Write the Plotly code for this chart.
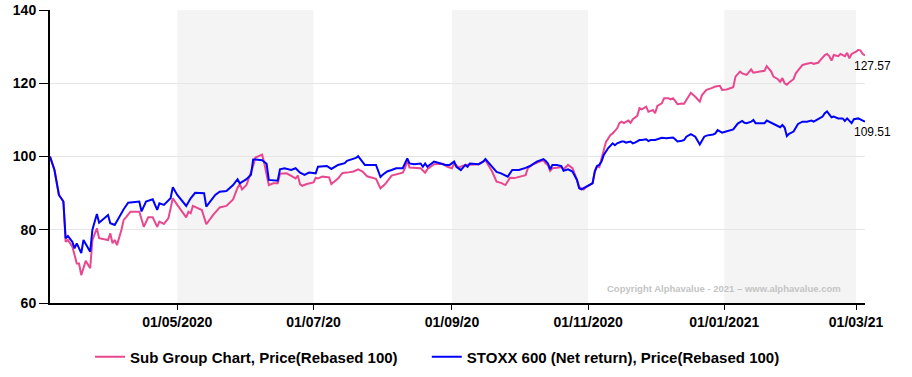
import plotly.graph_objects as go

# ---------------- data ----------------
sub_dates = [
    "2020-03-05", "2020-03-07", "2020-03-09", "2020-03-10", "2020-03-11", "2020-03-12", "2020-03-13", "2020-03-15", "2020-03-16", "2020-03-17", "2020-03-18", "2020-03-19", "2020-03-21", "2020-03-23", "2020-03-24", "2020-03-26", "2020-03-27", "2020-03-31",
    "2020-04-01", "2020-04-02", "2020-04-03", "2020-04-04", "2020-04-06", "2020-04-07", "2020-04-08", "2020-04-10", "2020-04-14", "2020-04-16", "2020-04-18", "2020-04-20", "2020-04-22", "2020-04-23", "2020-04-25", "2020-04-27", "2020-04-28", "2020-04-29",
    "2020-05-01", "2020-05-05", "2020-05-06", "2020-05-07", "2020-05-08", "2020-05-11", "2020-05-12", "2020-05-14", "2020-05-17", "2020-05-20", "2020-05-23", "2020-05-26", "2020-05-28", "2020-05-29", "2020-05-30",
    "2020-06-01", "2020-06-03", "2020-06-04", "2020-06-05", "2020-06-07", "2020-06-08", "2020-06-09", "2020-06-11", "2020-06-13", "2020-06-15", "2020-06-16", "2020-06-19", "2020-06-21", "2020-06-23", "2020-06-24", "2020-06-25", "2020-06-26", "2020-06-28",
    "2020-07-01", "2020-07-02", "2020-07-03", "2020-07-05", "2020-07-08", "2020-07-09", "2020-07-12", "2020-07-14", "2020-07-16", "2020-07-19", "2020-07-21", "2020-07-23", "2020-07-25", "2020-07-29", "2020-07-31",
    "2020-08-02", "2020-08-05", "2020-08-07", "2020-08-10", "2020-08-11", "2020-08-12", "2020-08-13", "2020-08-18", "2020-08-20", "2020-08-21", "2020-08-24", "2020-08-28", "2020-08-30",
    "2020-09-01", "2020-09-02", "2020-09-04", "2020-09-07", "2020-09-09", "2020-09-13", "2020-09-16", "2020-09-19", "2020-09-21", "2020-09-23", "2020-09-25", "2020-09-27", "2020-09-29",
    "2020-10-01", "2020-10-04", "2020-10-05", "2020-10-07", "2020-10-09", "2020-10-10", "2020-10-12", "2020-10-13", "2020-10-14", "2020-10-15", "2020-10-16", "2020-10-18", "2020-10-20", "2020-10-21", "2020-10-23", "2020-10-25", "2020-10-26", "2020-10-27", "2020-10-28", "2020-10-30", "2020-10-31",
    "2020-11-03", "2020-11-04", "2020-11-05", "2020-11-06", "2020-11-07", "2020-11-09", "2020-11-11", "2020-11-12", "2020-11-14", "2020-11-15", "2020-11-16", "2020-11-17", "2020-11-19", "2020-11-20", "2020-11-21", "2020-11-23", "2020-11-24", "2020-11-25", "2020-11-27", "2020-11-28", "2020-11-30",
    "2020-12-01", "2020-12-02", "2020-12-04", "2020-12-05", "2020-12-07", "2020-12-08", "2020-12-09", "2020-12-10", "2020-12-11", "2020-12-13", "2020-12-14", "2020-12-15", "2020-12-17", "2020-12-19", "2020-12-21", "2020-12-22", "2020-12-24", "2020-12-26", "2020-12-28", "2020-12-30", "2020-12-31",
    "2021-01-02", "2021-01-05", "2021-01-06", "2021-01-08", "2021-01-09", "2021-01-11", "2021-01-13", "2021-01-14", "2021-01-17", "2021-01-19", "2021-01-20", "2021-01-22", "2021-01-23", "2021-01-25", "2021-01-26", "2021-01-27", "2021-01-28", "2021-01-29", "2021-01-30",
    "2021-02-01", "2021-02-02", "2021-02-03", "2021-02-05", "2021-02-07", "2021-02-09", "2021-02-10", "2021-02-12", "2021-02-13", "2021-02-15", "2021-02-16", "2021-02-17", "2021-02-18", "2021-02-19", "2021-02-21", "2021-02-22", "2021-02-24", "2021-02-25", "2021-02-26", "2021-02-27",
    "2021-03-01", "2021-03-02", "2021-03-03", "2021-03-04", "2021-03-05",
]
sub_values = [
    100.0, 96.3, 89.5, 88.6, 87.7, 76.7, 77.2, 75.4, 73.1, 70.8, 70.8, 67.6, 71.5, 69.5, 77.2, 80.4, 77.7, 77.2,
    79.0, 76.3, 77.2, 75.8, 80.0, 82.7, 83.4, 84.9, 84.9, 80.8, 83.4, 83.4, 80.8, 82.2, 81.6, 83.1, 85.8, 88.6,
    86.8, 83.4, 84.9, 84.5, 86.5, 85.8, 85.4, 81.5, 84.0, 86.1, 86.5, 88.3, 91.5, 92.5, 91.0,
    92.2, 95.5, 97.5, 99.7, 100.1, 100.5, 98.0, 92.2, 92.7, 92.7, 95.3, 95.4, 94.7, 94.0, 94.8, 92.4, 92.0, 92.5,
    92.9, 94.2, 94.0, 94.5, 94.3, 92.5, 94.0, 95.5, 95.6, 95.9, 96.5, 95.9, 94.6, 93.9, 91.3,
    92.4, 94.8, 95.2, 95.6, 96.8, 98.9, 97.0, 96.8, 95.6, 96.5, 97.9, 98.0, 97.2,
    96.8, 98.1, 97.0, 97.7, 97.8, 97.9, 99.0, 95.9, 93.1, 92.8, 92.2, 94.2, 94.1,
    94.5, 94.9, 96.8, 97.8, 98.3, 98.6, 99.0, 98.1, 97.7, 96.1, 96.8, 96.9, 97.1, 96.5, 97.7, 96.8, 95.4, 93.6, 91.6, 91.0, 91.6,
    92.7, 96.1, 97.4, 97.1, 99.5, 104.0, 105.9, 106.3, 107.7, 109.1, 109.5, 109.1, 109.8, 109.2, 110.2, 111.1, 113.2, 112.9, 113.6, 112.2, 112.7,
    111.8, 113.8, 114.5, 115.9, 115.9, 115.6, 115.9, 115.2, 114.3, 114.5, 114.4, 115.4, 117.4, 116.3, 115.0, 116.8, 118.2, 118.6, 119.1, 119.3, 118.2,
    118.3, 118.9, 121.8, 123.2, 122.7, 122.3, 123.8, 122.9, 123.2, 123.4, 124.7, 123.2, 121.8, 121.1, 120.4, 121.4, 120.0, 119.6, 120.2,
    121.1, 122.7, 123.5, 125.0, 125.3, 125.6, 125.3, 125.6, 126.3, 127.7, 128.0, 127.4, 126.2, 127.7, 127.4, 128.0, 127.4, 128.3, 126.8, 128.0,
    128.6, 129.1, 128.9, 128.0, 127.57,
]

stoxx_dates = [
    "2020-03-05", "2020-03-07", "2020-03-09", "2020-03-10", "2020-03-11", "2020-03-12", "2020-03-13", "2020-03-15", "2020-03-16", "2020-03-17", "2020-03-19", "2020-03-20", "2020-03-23", "2020-03-24", "2020-03-26", "2020-03-27", "2020-03-31",
    "2020-04-01", "2020-04-03", "2020-04-07", "2020-04-09", "2020-04-14", "2020-04-15", "2020-04-17", "2020-04-20", "2020-04-22", "2020-04-23", "2020-04-25", "2020-04-28", "2020-04-29",
    "2020-05-01", "2020-05-05", "2020-05-07", "2020-05-09", "2020-05-13", "2020-05-14", "2020-05-18", "2020-05-20", "2020-05-23", "2020-05-26", "2020-05-28", "2020-05-29",
    "2020-06-01", "2020-06-03", "2020-06-04", "2020-06-05", "2020-06-08", "2020-06-10", "2020-06-11", "2020-06-15", "2020-06-16", "2020-06-18", "2020-06-21", "2020-06-23", "2020-06-25", "2020-06-27", "2020-06-29",
    "2020-07-02", "2020-07-03", "2020-07-07", "2020-07-09", "2020-07-12", "2020-07-15", "2020-07-16", "2020-07-20", "2020-07-21", "2020-07-23", "2020-07-24", "2020-07-29", "2020-07-30", "2020-07-31",
    "2020-08-01", "2020-08-03", "2020-08-05", "2020-08-07", "2020-08-10", "2020-08-12", "2020-08-13", "2020-08-15", "2020-08-18", "2020-08-19", "2020-08-20", "2020-08-21", "2020-08-22", "2020-08-24", "2020-08-27", "2020-08-29", "2020-08-31",
    "2020-09-02", "2020-09-03", "2020-09-05", "2020-09-07", "2020-09-08", "2020-09-09", "2020-09-13", "2020-09-15", "2020-09-16", "2020-09-17", "2020-09-19", "2020-09-21", "2020-09-23", "2020-09-26", "2020-09-28",
    "2020-10-01", "2020-10-04", "2020-10-06", "2020-10-09", "2020-10-10", "2020-10-12", "2020-10-13", "2020-10-14", "2020-10-15", "2020-10-16", "2020-10-18", "2020-10-20", "2020-10-21", "2020-10-23", "2020-10-25", "2020-10-26", "2020-10-27", "2020-10-28", "2020-10-29", "2020-10-31",
    "2020-11-03", "2020-11-04", "2020-11-05", "2020-11-06", "2020-11-07", "2020-11-08", "2020-11-10", "2020-11-12", "2020-11-13", "2020-11-14", "2020-11-16", "2020-11-17", "2020-11-18", "2020-11-20", "2020-11-21", "2020-11-22", "2020-11-23", "2020-11-24", "2020-11-25", "2020-11-27", "2020-11-28", "2020-11-29",
    "2020-12-01", "2020-12-02", "2020-12-04", "2020-12-06", "2020-12-07", "2020-12-09", "2020-12-10", "2020-12-11", "2020-12-13", "2020-12-14", "2020-12-15", "2020-12-17", "2020-12-19", "2020-12-20", "2020-12-21", "2020-12-23", "2020-12-24", "2020-12-27", "2020-12-28", "2020-12-29", "2020-12-31",
    "2021-01-01", "2021-01-03", "2021-01-05", "2021-01-07", "2021-01-09", "2021-01-10", "2021-01-11", "2021-01-13", "2021-01-14", "2021-01-15", "2021-01-17", "2021-01-19", "2021-01-20", "2021-01-22", "2021-01-23", "2021-01-25", "2021-01-26", "2021-01-27", "2021-01-28", "2021-01-29", "2021-01-30",
    "2021-02-01", "2021-02-02", "2021-02-03", "2021-02-05", "2021-02-07", "2021-02-09", "2021-02-10", "2021-02-12", "2021-02-14", "2021-02-15", "2021-02-16", "2021-02-18", "2021-02-19", "2021-02-21", "2021-02-23", "2021-02-24", "2021-02-25", "2021-02-27", "2021-02-28",
    "2021-03-02", "2021-03-03", "2021-03-04", "2021-03-05",
]
stoxx_values = [
    100.0, 96.3, 89.5, 88.6, 87.7, 77.7, 78.3, 76.7, 74.9, 76.3, 73.6, 77.2, 74.0, 80.0, 84.3, 81.9, 84.0,
    81.8, 81.3, 85.6, 87.4, 87.7, 85.0, 87.7, 88.3, 85.4, 87.2, 86.8, 88.6, 91.6,
    89.5, 86.5, 88.6, 90.1, 90.0, 86.3, 89.5, 90.4, 90.6, 92.2, 93.8, 92.7,
    93.8, 95.0, 99.2, 99.2, 99.0, 98.0, 93.6, 93.4, 96.5, 96.8, 96.3, 96.8, 95.6, 95.0, 95.6,
    95.4, 97.2, 97.4, 96.6, 97.7, 98.2, 98.8, 99.6, 100.1, 98.5, 97.7, 97.7, 96.3, 94.4,
    95.0, 95.9, 96.3, 96.8, 96.8, 99.5, 98.1, 97.9, 98.1, 97.2, 98.1, 97.2, 97.7, 98.6, 98.1, 97.7, 97.7,
    98.6, 97.2, 96.3, 97.7, 97.2, 98.1, 97.9, 98.6, 99.3, 98.6, 97.2, 95.8, 95.4, 94.5, 96.3,
    96.3, 96.9, 97.4, 98.6, 98.9, 99.3, 98.8, 98.1, 96.5, 97.7, 97.7, 97.4, 96.1, 96.5, 95.9, 94.9, 93.6, 91.3, 91.0, 91.7,
    92.7, 95.9, 97.4, 97.7, 98.6, 100.4, 102.3, 103.6, 103.1, 103.6, 104.1, 104.1, 103.8, 104.1, 103.6, 103.8, 104.1, 104.5, 104.5, 104.7, 104.2, 104.5,
    104.5, 104.7, 105.1, 105.0, 105.0, 105.2, 104.7, 104.1, 104.3, 104.5, 105.4, 106.1, 105.4, 104.5, 103.3, 105.4, 105.7, 106.0, 106.3, 107.2, 106.5,
    106.7, 107.0, 107.4, 109.0, 109.7, 109.2, 109.1, 109.5, 110.0, 109.1, 109.1, 109.1, 109.8, 109.2, 108.9, 108.3, 108.0, 108.6, 107.9, 105.6, 106.2,
    106.8, 107.7, 108.9, 109.5, 109.5, 109.8, 109.5, 110.2, 110.9, 111.8, 112.3, 110.7, 110.9, 110.4, 110.4, 109.7, 110.4, 109.1, 110.2,
    110.4, 110.2, 109.8, 109.51,
]

series_names = ["Sub Group Chart, Price(Rebased 100)", "STOXX 600 (Net return), Price(Rebased 100)"]
series_colors = ["#E9488F", "#0000FF"]

x_tick_dates = ["2020-05-01", "2020-07-01", "2020-09-01", "2020-11-01", "2021-01-01", "2021-03-01"]
x_tick_labels = ["01/05/2020", "01/07/20", "01/09/20", "01/11/2020", "01/01/2021", "01/03/21"]
y_ticks = [60, 80, 100, 120, 140]
band_starts = ["2020-05-01", "2020-09-01", "2021-01-01"]
band_ends = ["2020-07-01", "2020-11-01", "2021-03-01"]
x_range = ["2020-03-05", "2021-03-05"]
copyright_text = "Copyright Alphavalue - 2021 \u2013 www.alphavalue.com"

assert len(sub_dates) == len(sub_values), (len(sub_dates), len(sub_values))
assert len(stoxx_dates) == len(stoxx_values), (len(stoxx_dates), len(stoxx_values))

FONT = "Liberation Sans, Arial, sans-serif"

fig = go.Figure()
for dates, vals, name, color, leg in [
    (sub_dates, sub_values, series_names[0], series_colors[0], "legend"),
    (stoxx_dates, stoxx_values, series_names[1], series_colors[1], "legend2"),
]:
    fig.add_trace(go.Scatter(x=dates, y=vals, mode="lines", name=name, legend=leg,
                             line=dict(color=color, width=2)))

shapes = []
for s, e in zip(band_starts, band_ends):
    shapes.append(dict(type="rect", xref="x", yref="paper", x0=s, x1=e, y0=0, y1=1,
                       fillcolor="#f4f4f4", line=dict(width=0), layer="below"))

annotations = []
for dates, vals in [(sub_dates, sub_values), (stoxx_dates, stoxx_values)]:
    annotations.append(dict(x=dates[-1], y=vals[-1], xref="x", yref="y",
                            text=f"{vals[-1]:.2f}", showarrow=False,
                            xanchor="left", yanchor="middle", xshift=-13, yshift=-10,
                            font=dict(family=FONT, size=12, color="#000000")))
annotations.append(dict(x=0.9735, y=0.051, xref="paper", yref="paper", text=copyright_text,
                        showarrow=False, xanchor="right", yanchor="middle",
                        font=dict(family=FONT, size=9.5, color="#c4c4c4", weight="bold")))

legend_font = dict(family=FONT, size=15, color="#000000", weight="bold")
fig.update_layout(
    width=912, height=377,
    margin=dict(l=50, r=47, t=10, b=74, autoexpand=False),
    paper_bgcolor="white", plot_bgcolor="white",
    font=dict(family=FONT, color="#000000"),
    shapes=shapes, annotations=annotations,
    showlegend=True,
    legend=dict(orientation="h", xref="container", yref="container",
                x=0.0987, xanchor="left", y=0.053, yanchor="middle",
                font=legend_font, itemwidth=30),
    legend2=dict(orientation="h", xref="container", yref="container",
                 x=0.468, xanchor="left", y=0.053, yanchor="middle",
                 font=legend_font, itemwidth=30),
    xaxis=dict(type="date", range=x_range, tickvals=x_tick_dates, ticktext=x_tick_labels,
               automargin=False,
               showgrid=False, zeroline=False, showline=True, linecolor="#000000", linewidth=2,
               ticks="outside", ticklen=5, tickcolor="#000000", tickwidth=1,
               tickfont=dict(family=FONT, size=14, color="#000000", weight="bold")),
    yaxis=dict(range=[60, 140], tickvals=y_ticks, automargin=False,
               showgrid=True, gridcolor="#e6e6e6", gridwidth=1,
               zeroline=False, showline=True, linecolor="#000000", linewidth=2,
               ticks="outside", ticklen=9, tickcolor="#000000", tickwidth=1,
               tickfont=dict(family=FONT, size=14, color="#000000", weight="bold")),
)

# remove the default 8px page margin so the figure sits at the window origin
fig.write_html("out.html", config={"displayModeBar": False},
               post_script="document.body.style.margin='0';")
